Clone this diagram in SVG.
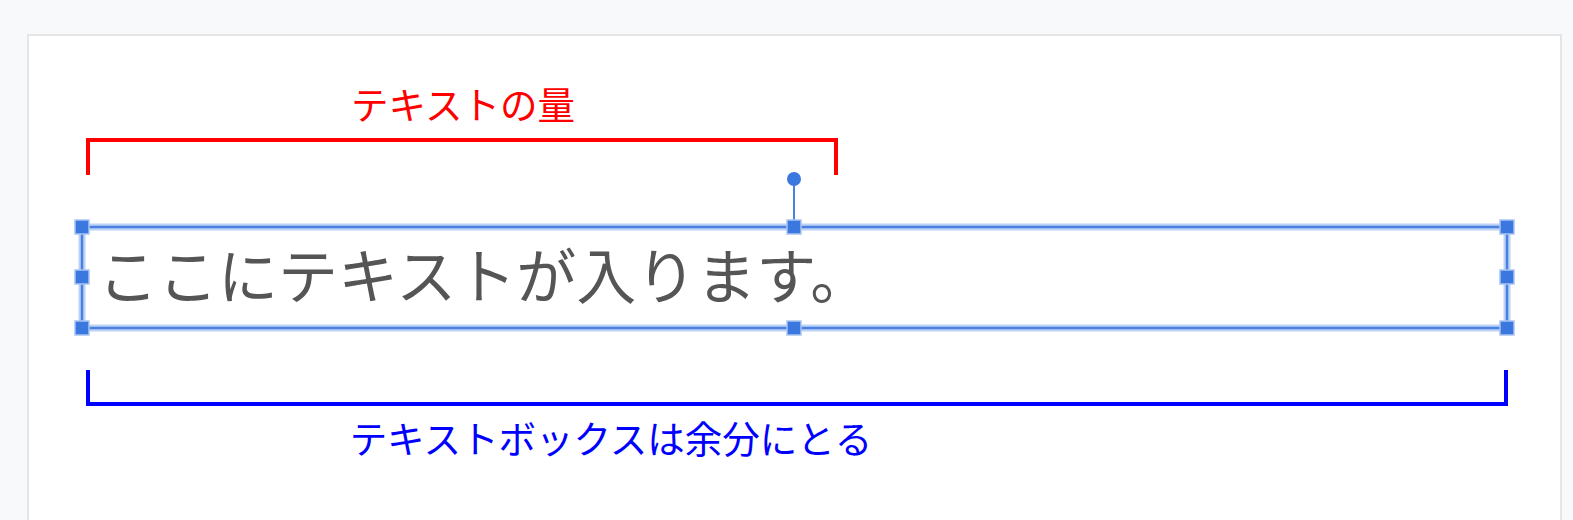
<svg xmlns="http://www.w3.org/2000/svg" width="1573" height="520" viewBox="0 0 1573 520">
<defs>
<style>
.ja{font-family:"Noto Sans CJK JP","Noto Sans",sans-serif;}
.sel-halo{fill:none;stroke:#bcd2f6;stroke-width:7;}
.sel-line{fill:none;stroke:#4a80e0;stroke-width:2.5;}
.handle{fill:#3a78e0;stroke:#a9c4f2;stroke-width:1.5;}
.bracket{fill:none;stroke-width:4;stroke-linecap:square;}
</style>
</defs>
<rect x="0" y="0" width="1573" height="520" fill="#f8f9fa"/>
<g id="page">
<rect x="28" y="35" width="1533" height="500" fill="#ffffff" stroke="#dedede" stroke-width="1.5"/>
</g>
<g id="textbox">
<rect class="sel-halo" x="82" y="227" width="1425" height="101"/>
<rect class="sel-line" x="82" y="227" width="1425" height="101"/>
<line x1="794" y1="183" x2="794" y2="220" stroke="#4a80e0" stroke-width="2"/>
<circle cx="794" cy="179" r="7" fill="#3a78e0"/>
<rect class="handle" x="75" y="220" width="14" height="14"/>
<rect class="handle" x="787" y="220" width="14" height="14"/>
<rect class="handle" x="1500" y="220" width="14" height="14"/>
<rect class="handle" x="75" y="270" width="14" height="14"/>
<rect class="handle" x="1500" y="270" width="14" height="14"/>
<rect class="handle" x="75" y="321" width="14" height="14"/>
<rect class="handle" x="787" y="321" width="14" height="14"/>
<rect class="handle" x="1500" y="321" width="14" height="14"/>
<text class="ja" x="98" y="299" font-size="60" fill="#555555">ここにテキストが入ります。</text>
</g>
<g id="connectors">
<path class="bracket" d="M88,173 V140 H836 V173" stroke="#ff0000"/>
<path class="bracket" d="M88,372 V404 H1506 V372" stroke="#0000ff"/>
</g>
<g id="label-red">
<text class="ja" x="463" y="119" font-size="37.5" fill="#ff0000" text-anchor="middle">テキストの量</text>
</g>
<g id="label-blue">
<text class="ja" x="611" y="453" font-size="37.5" fill="#0000ff" text-anchor="middle">テキストボックスは余分にとる</text>
</g>
</svg>
